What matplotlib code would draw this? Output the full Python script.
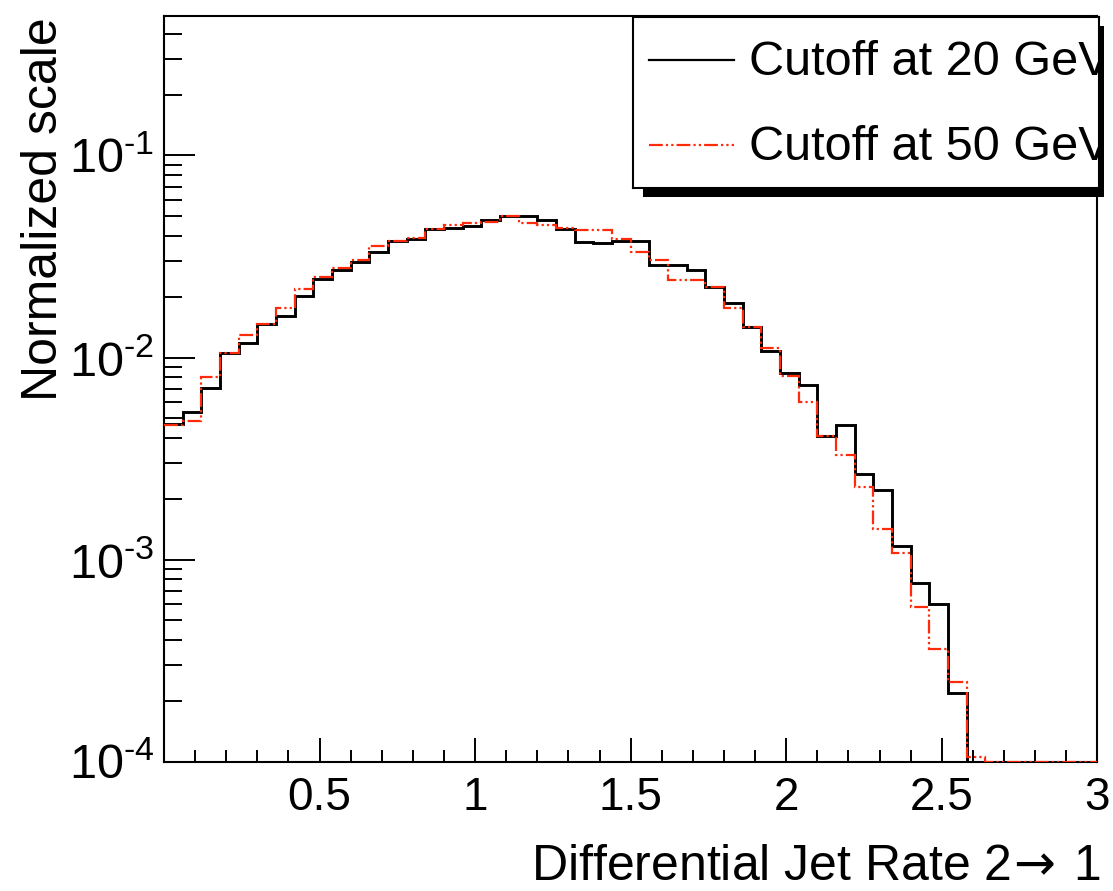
import numpy as np
import matplotlib
matplotlib.use("Agg")
import matplotlib.pyplot as plt
from matplotlib.ticker import FixedLocator, MultipleLocator, LogLocator, FuncFormatter, NullFormatter

plt.rcParams['font.family'] = ['Liberation Sans', 'DejaVu Sans']
plt.rcParams['mathtext.fontset'] = 'custom'
plt.rcParams['mathtext.rm'] = 'Liberation Sans'
plt.rcParams['mathtext.it'] = 'Liberation Sans:italic'
plt.rcParams['mathtext.bf'] = 'Liberation Sans:bold'

# ---- data ----
x_min, x_max, n_bins = 0.0, 3.0, 50
cutoff20 = [0.00470, 0.00536, 0.00708, 0.01051, 0.01183, 0.01460, 0.01603, 0.02020, 0.02453, 0.02708,
            0.02977, 0.03337, 0.03773, 0.03869, 0.04336, 0.04386, 0.04487, 0.04805, 0.05000, 0.05000,
            0.04789, 0.04351, 0.03748, 0.03672, 0.03795, 0.03795, 0.02876, 0.02876, 0.02708, 0.02246,
            0.01872, 0.01424, 0.01083, 0.00843, 0.00729, 0.00408, 0.00463, 0.00266, 0.00222, 0.00117,
            0.000767, 0.000600, 0.000220, 0, 0, 0, 0, 0, 0, 0]
cutoff50 = [0.00463, 0.00488, 0.00798, 0.01051, 0.01296, 0.01460, 0.01756, 0.02182, 0.02518, 0.02780,
            0.03046, 0.03560, 0.03773, 0.03891, 0.04336, 0.04522, 0.04642, 0.04712, 0.05000, 0.04659,
            0.04529, 0.04376, 0.04272, 0.04263, 0.03878, 0.03341, 0.03046, 0.02411, 0.02411, 0.02246,
            0.01768, 0.01424, 0.01113, 0.00812, 0.00606, 0.00407, 0.00330, 0.00230, 0.00141, 0.00108,
            0.000585, 0.000360, 0.000249, 0.000106, 0, 0, 0, 0, 0, 0]
labels = ["Cutoff at 20 GeV", "Cutoff at 50 GeV"]
x_ticks = [0.5, 1.0, 1.5, 2.0, 2.5, 3.0]
x_ticklabels = ["0.5", "1", "1.5", "2", "2.5", "3"]
y_min, y_max = 1e-4, 0.49
xlabel = "Differential Jet Rate 2$\\!\\rightarrow\\,$1"
ylabel = "Normalized scale"

RED = '#ff2a0a'
red_dash = (0, (6.2, 1.4, 1.0, 1.4, 1.0, 1.4))

W, H = 1113, 891
fig = plt.figure(figsize=(W / 100, H / 100), dpi=100)
ax = fig.add_axes([164 / W, 1 - 761.7 / H, 933.3 / W, 745.7 / H])

edges = np.linspace(x_min, x_max, n_bins + 1)
v20 = np.array(cutoff20, dtype=float)
v50 = np.array(cutoff50, dtype=float)
v20 = np.where(v20 > 0, v20, y_min)
v50 = np.where(v50 > 0, v50, y_min)

ax.stairs(v20, edges, baseline=None, color='black', lw=2.1, zorder=3)
ax.stairs(v50, edges, baseline=None, color=RED, lw=1.6, linestyle=red_dash, zorder=4)

ax.set_yscale('log')
ax.set_xlim(x_min, x_max)
ax.set_ylim(y_min, y_max)

for s in ax.spines.values():
    s.set_linewidth(1.5)

ax.xaxis.set_major_locator(FixedLocator(x_ticks))
ax.set_xticklabels(x_ticklabels)
ax.xaxis.set_minor_locator(MultipleLocator(0.1))
ax.yaxis.set_major_locator(LogLocator(base=10, numticks=10))
ax.yaxis.set_minor_locator(LogLocator(base=10, subs=np.arange(2, 10), numticks=20))
ax.yaxis.set_minor_formatter(NullFormatter())

HYPHEN = '\u2010'

def yfmt(v, pos):
    e = int(round(np.log10(v)))
    sign = HYPHEN if e < 0 else ''
    return '$\\mathregular{10^{' + sign + str(abs(e)) + '}}$'
ax.yaxis.set_major_formatter(FuncFormatter(yfmt))

ax.tick_params(axis='x', which='major', direction='in', length=17, width=1.4, labelsize=33, pad=10,
               top=False)
ax.tick_params(axis='x', which='minor', direction='in', length=8.5, width=1.4, top=False)
ax.tick_params(axis='y', which='major', direction='in', length=22, width=1.4, labelsize=35, pad=7,
               right=False)
ax.tick_params(axis='y', which='minor', direction='in', length=13, width=1.4, right=False)

fig.text(44 / W, 1 - 17 / H, ylabel, rotation=90, ha='center', va='top', fontsize=36)
fig.text(1100 / W, 0.5 / H, xlabel, ha='right', va='bottom', fontsize=36,
         math_fontfamily='dejavusans')

# legend with shadow
shadow = fig.add_axes([643 / W, 1 - 197 / H, 461 / W, 171 / H])
shadow.set_facecolor('black')
shadow.set_xticks([]); shadow.set_yticks([])
for s in shadow.spines.values():
    s.set_visible(False)

leg = fig.add_axes([633 / W, 1 - 188 / H, 466 / W, 171 / H])
leg.set_facecolor('white')
leg.set_xticks([]); leg.set_yticks([])
leg.set_xlim(0, 1); leg.set_ylim(0, 1)
for s in leg.spines.values():
    s.set_linewidth(1.5)
leg.plot([0.034, 0.217], [0.75, 0.75], color='black', lw=1.6)
leg.plot([0.034, 0.217], [0.25, 0.25], color=RED, lw=1.6, linestyle=red_dash)
leg.text(0.249, 0.735, labels[0], fontsize=35, va='center', ha='left', clip_on=True)
leg.text(0.249, 0.235, labels[1], fontsize=35, va='center', ha='left', clip_on=True)

fig.savefig('out.png', dpi=100)
